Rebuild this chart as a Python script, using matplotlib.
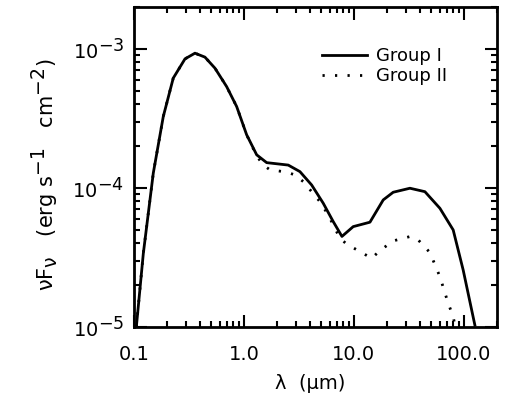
import matplotlib
matplotlib.use("Agg")
import matplotlib.pyplot as plt
import matplotlib._mathtext as _mt
from matplotlib.ticker import FixedLocator, FixedFormatter, LogLocator, NullFormatter
import numpy as np

_mt.SHRINK_FACTOR = 0.9
plt.rcParams['font.family'] = ['DejaVu Sans']
plt.rcParams['mathtext.fontset'] = 'dejavusans'
plt.rcParams['mathtext.default'] = 'regular'

# Group I SED
wl1 = [0.105, 0.1216, 0.1498, 0.1846, 0.2275, 0.2908, 0.3584, 0.4418, 0.545, 0.696,
       0.858, 1.058, 1.305, 1.609, 2.527, 3.228, 4.126, 5.26, 6.48, 7.78,
       9.85, 13.98, 18.47, 22.75, 32.3, 44.2, 60.5, 79.9, 98.5, 125.9]
f1 = [1.0e-5, 3.39e-5, 1.28e-4, 3.26e-4, 6.16e-4, 8.47e-4, 9.31e-4, 8.72e-4, 7.26e-4, 5.35e-4,
      3.85e-4, 2.41e-4, 1.73e-4, 1.52e-4, 1.46e-4, 1.31e-4, 1.05e-4, 7.76e-5, 5.73e-5, 4.48e-5,
      5.27e-5, 5.67e-5, 8.20e-5, 9.31e-5, 9.95e-5, 9.40e-5, 7.14e-5, 4.99e-5, 2.57e-5, 1.03e-5]

# Group II SED
wl2 = [0.105, 0.1216, 0.1498, 0.1846, 0.2275, 0.2908, 0.3584, 0.4418, 0.545, 0.696,
       0.858, 1.058, 1.305, 1.498, 1.723, 2.443, 2.909, 3.46, 4.126, 4.91, 5.84,
       6.71, 7.46, 8.58, 11.75, 14.49, 17.22, 22.75, 32.3, 38.4, 49.1, 60.5,
       72.0, 79.9, 82.8]
f2 = [1.0e-5, 3.39e-5, 1.28e-4, 3.26e-4, 6.16e-4, 8.47e-4, 9.31e-4, 8.72e-4, 7.26e-4, 5.35e-4,
      3.85e-4, 2.41e-4, 1.70e-4, 1.46e-4, 1.35e-4, 1.30e-4, 1.24e-4, 1.11e-4, 9.40e-5, 7.96e-5, 6.39e-5,
      5.13e-5, 4.35e-5, 3.95e-5, 3.43e-5, 3.12e-5, 3.54e-5, 4.16e-5, 4.47e-5, 4.23e-5, 3.43e-5, 2.30e-5,
      1.48e-5, 1.19e-5, 1.03e-5]

xticks = [0.1, 1.0, 10.0, 100.0]
xticklabels = ["0.1", "1.0", "10.0", "100.0"]
labels = ["Group I", "Group II"]

fig = plt.figure(figsize=(5.12, 3.97), dpi=100)
ax = fig.add_axes([134/512, 1-327/397, (497-134)/512, (327-7)/397])

ax.plot(wl1, f1, color='black', lw=2.0, ls='-', label=labels[0])
ax.plot(wl2, f2, color='black', lw=2.0, ls=(0, (0.8, 3.7)), label=labels[1])

ax.set_xscale('log')
ax.set_yscale('log')
ax.set_xlim(0.1, 200)
ax.set_ylim(1e-5, 2.0e-3)

ax.xaxis.set_major_locator(FixedLocator(xticks))
ax.xaxis.set_major_formatter(FixedFormatter(xticklabels))
ax.xaxis.set_minor_locator(LogLocator(base=10, subs=np.arange(2, 10)))
ax.xaxis.set_minor_formatter(NullFormatter())
ax.yaxis.set_minor_locator(LogLocator(base=10, subs=np.arange(2, 10)))
ax.yaxis.set_minor_formatter(NullFormatter())

ax.tick_params(which='both', direction='in', top=True, right=True, width=1.5, colors='black')
ax.tick_params(which='major', length=9, labelsize=14)
ax.tick_params(axis='x', which='major', pad=13)
ax.tick_params(axis='y', which='major', pad=7)
ax.tick_params(which='minor', length=4.5)
for s in ax.spines.values():
    s.set_linewidth(2.0)

ax.set_xlabel("λ  (μm)", fontsize=14)
ax.xaxis.set_label_coords((310-134)/363, (327-393)/320)
ax.xaxis.label.set_va('bottom')
ax.set_ylabel(r"$\nu$F$_\nu$   (erg s$^{-1}$   cm$^{-2}$)", fontsize=15)
ax.yaxis.set_label_coords((60-134)/363, (327-175)/320)

leg = ax.legend(loc='upper left', bbox_to_anchor=((322-134)/363, (327-47)/320), frameon=False,
                fontsize=13, handlelength=2.5, handletextpad=0.5, labelspacing=0.12,
                borderaxespad=0.0, borderpad=0.0)

fig.savefig("out.png", dpi=100)
